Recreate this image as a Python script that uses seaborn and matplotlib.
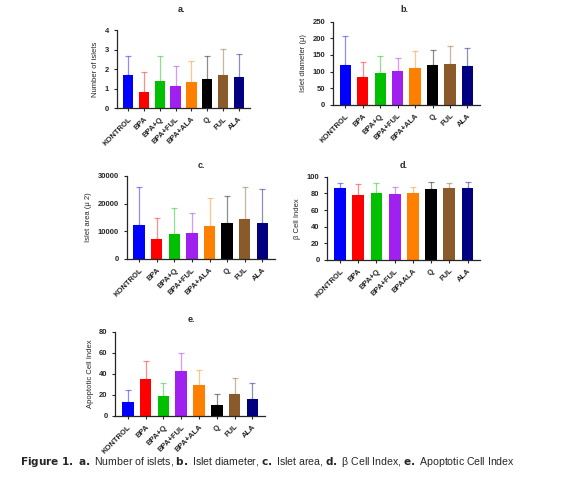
import numpy as np
import pandas as pd
import seaborn as sns
import matplotlib.pyplot as plt

groups = ["KONTROL", "BPA", "BPA+Q", "BPA+FUL", "BPA+ALA", "Q", "FUL", "ALA"]
groups_d = ["KONTROL", "BPA", "BPA+Q", "BPA+FUL", "BPAALA", "Q", "FUL", "ALA"]
colors = ["#0000ff", "#ff0000", "#00c000", "#a020f0", "#ff8000", "#000000", "#8b5a2b", "#000080"]

islets_mean = [1.7, 0.82, 1.42, 1.12, 1.35, 1.5, 1.7, 1.6]
islets_top = [2.68, 1.87, 2.68, 2.17, 2.45, 2.68, 3.02, 2.8]
diam_mean = [120, 85, 95, 101, 111, 120, 124, 116]
diam_top = [207, 129, 147, 141, 162, 165, 177, 170]
area_mean = [12400, 7300, 9000, 9300, 11800, 13000, 14400, 12900]
area_top = [25900, 14800, 18200, 16400, 22000, 22800, 26100, 25300]
beta_mean = [86, 78, 81, 79, 81, 85, 86, 86]
beta_top = [92, 91, 92, 88, 88, 94, 92, 94]
apop_mean = [13, 35, 18.5, 43, 29.5, 10.5, 21, 16.5]
apop_top = [25, 52, 31, 60, 43.5, 21, 36, 31]

sns.set_style("ticks")
plt.rcParams['font.family'] = ['Liberation Sans', 'DejaVu Sans']

fig = plt.figure(figsize=(5.76, 4.83), dpi=100)

# rect, labels, means, error tops, ylabel, title, title position (fig px), ylim, ticks
panels = [
    ([0.203, 0.776, 0.231, 0.161], groups, islets_mean, islets_top, "Number of islets", "a.", (181, 10), (0, 4), [0, 1, 2, 3, 4]),
    ([0.578, 0.783, 0.255, 0.172], groups, diam_mean, diam_top, "Islet diameter (\u03bc)", "b.", (404, 10), (0, 250), [0, 50, 100, 150, 200, 250]),
    ([0.220, 0.464, 0.257, 0.172], groups, area_mean, area_top, "Islet area (\u03bc 2)", "c.", (201, 165), (0, 30000), [0, 10000, 20000, 30000]),
    ([0.568, 0.462, 0.266, 0.172], groups_d, beta_mean, beta_top, "\u03b2 Cell Index", "d.", (404, 165), (0, 100), [0, 20, 40, 60, 80, 100]),
    ([0.200, 0.139, 0.260, 0.174], groups, apop_mean, apop_top, "Apoptotic Cell Index", "e.", (191, 320), (0, 80), [0, 20, 40, 60, 80]),
]

for rect, labels, mean, top, ylabel, title, tpos, ylim, ticks in panels:
    ax = fig.add_axes(rect)
    df = pd.DataFrame({"group": labels, "value": mean})
    sns.barplot(data=df, x="group", y="value", hue="group", palette=colors,
                legend=False, width=0.65, saturation=1, ax=ax, edgecolor="none")
    err = np.array(top) - np.array(mean)
    for i in range(len(labels)):
        ax.errorbar(i, mean[i], yerr=[[0], [err[i]]], fmt="none", ecolor=colors[i],
                    alpha=0.45, elinewidth=0.9, capsize=2.5, capthick=0.9)
    ax.set_ylim(*ylim)
    ax.set_yticks(ticks)
    ax.set_xlabel("")
    ax.set_ylabel(ylabel, fontsize=5.5)
    fig.text(tpos[0] / 576, 1 - tpos[1] / 483, title, fontsize=6.5, fontweight="bold",
             ha="center", va="center")
    ax.tick_params(axis="y", labelsize=5.5, length=2, width=0.8)
    ax.tick_params(axis="x", labelsize=5.5, length=2, width=0.8)
    plt.setp(ax.get_xticklabels(), rotation=45, ha="right", rotation_mode="anchor", fontweight="bold")
    plt.setp(ax.get_yticklabels(), fontweight="bold")
    for s in ["left", "bottom"]:
        ax.spines[s].set_linewidth(0.9)
    sns.despine(ax=ax)

fig.text(0.035, 0.037,
         r"$\bf{Figure\ 1.\ a.}$ Number of islets, $\bf{b.}$ Islet diameter, $\bf{c.}$ Islet area, $\bf{d.}$ β Cell Index, $\bf{e.}$ Apoptotic Cell Index",
         fontsize=7.6)

fig.savefig("out.png", dpi=100)
